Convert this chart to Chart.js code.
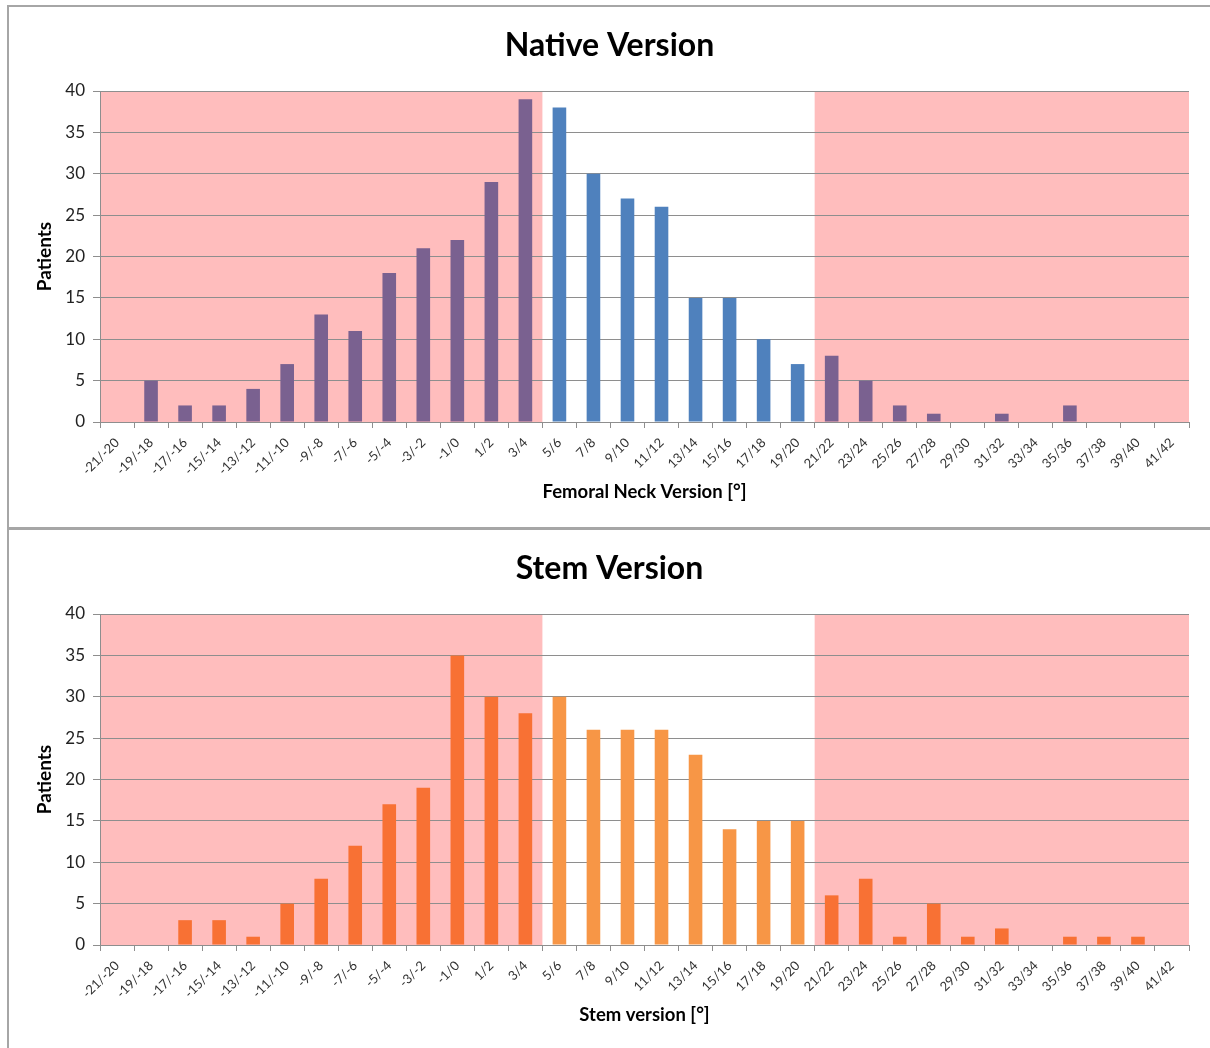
<!DOCTYPE html>
<html>
<head>
<meta charset="utf-8">
<script src="https://cdn.jsdelivr.net/npm/chart.js@4"></script>
<style>
  html, body { margin: 0; padding: 0; background: #fff; overflow: hidden; }
  .box { position: absolute; left: 7px; border: 2px solid #a6a6a6; width: 1201px; height: 520px; background: #fff; }
  #boxTop { top: 5px; }
  #boxBottom { top: 528px; }
  canvas { display: block; }
</style>
</head>
<body>
<div class="box" id="boxTop"><canvas id="nativeChart" width="1201" height="520"></canvas></div>
<div class="box" id="boxBottom"><canvas id="stemChart" width="1201" height="520"></canvas></div>
<script>
const categories = [
    "-21/-20", "-19/-18", "-17/-16", "-15/-14", "-13/-12", "-11/-10", "-9/-8", "-7/-6",
    "-5/-4", "-3/-2", "-1/0", "1/2", "3/4", "5/6", "7/8", "9/10", "11/12", "13/14",
    "15/16", "17/18", "19/20", "21/22", "23/24", "25/26", "27/28", "29/30", "31/32",
    "33/34", "35/36", "37/38", "39/40", "41/42"
];

const nativeValues = [0, 5, 2, 2, 4, 7, 13, 11, 18, 21, 22, 29, 39, 38, 30, 27, 26, 15,
    15, 10, 7, 8, 5, 2, 1, 0, 1, 0, 2, 0, 0, 0];

const stemValues = [0, 0, 3, 3, 1, 5, 8, 12, 17, 19, 35, 30, 28, 30, 26, 26, 26, 23,
    14, 15, 15, 6, 8, 1, 5, 1, 2, 0, 1, 1, 1, 0];

// normal range (white background), first and last category inside it
const normalRange = ["5/6", "19/20"];

const yTicks = [0, 5, 10, 15, 20, 25, 30, 35, 40];

const FONT = "Lato, 'Open Sans', sans-serif";
const GRID = "#8e8e8e";
const PINK = "#ffbdbd";

const bandPlugin = {
    id: "outOfRangeBands",
    beforeDraw(chart) {
        const {ctx, chartArea} = chart;
        const x = chart.scales.x, y = chart.scales.y;
        const lo = categories.indexOf(normalRange[0]);
        const hi = categories.indexOf(normalRange[1]);
        const leftEdge = (x.getPixelForValue(lo - 1) + x.getPixelForValue(lo)) / 2;
        const rightEdge = (x.getPixelForValue(hi) + x.getPixelForValue(hi + 1)) / 2;
        const top = y.getPixelForValue(yTicks[yTicks.length - 1]);
        const bottom = y.getPixelForValue(0);
        ctx.save();
        ctx.fillStyle = PINK;
        ctx.fillRect(chartArea.left, top, leftEdge - chartArea.left, bottom - top);
        ctx.fillRect(rightEdge, top, chartArea.right - rightEdge, bottom - top);
        ctx.restore();
    }
};

function barColors(inside, outside) {
    const lo = categories.indexOf(normalRange[0]);
    const hi = categories.indexOf(normalRange[1]);
    return categories.map((c, i) => (i >= lo && i <= hi) ? inside : outside);
}

function createChart(canvasId, title, xTitle, values, inside, outside) {
    return new Chart(document.getElementById(canvasId), {
        type: "bar",
        data: {
            labels: categories,
            datasets: [{
                data: values,
                backgroundColor: barColors(inside, outside),
                borderWidth: 0,
                barPercentage: 0.4,
                categoryPercentage: 1.0,
            }]
        },
        options: {
            responsive: false,
            animation: false,
            devicePixelRatio: 1,
            layout: {padding: {left: 21, right: 21, top: 0, bottom: 0}},
            scales: {
                x: {
                    offset: true,
                    grid: {
                        display: true,
                        offset: true,
                        drawOnChartArea: false,
                        drawTicks: true,
                        tickLength: 6,
                        color: GRID,
                    },
                    border: {display: true, color: GRID},
                    ticks: {
                        autoSkip: false,
                        maxRotation: 45,
                        minRotation: 45,
                        padding: 7,
                        color: "#333",
                        font: {family: FONT, size: 13},
                    },
                    title: {
                        display: true,
                        text: xTitle,
                        color: "#000",
                        font: {family: FONT, size: 18.5, weight: "bold"},
                        padding: {top: 0, bottom: 24},
                    },
                    afterFit(scale) { scale.height = 105; }
                },
                y: {
                    min: 0,
                    max: 40,
                    afterBuildTicks(scale) { scale.ticks = yTicks.map(v => ({value: v})); },
                    grid: {
                        color: GRID,
                        drawTicks: true,
                        tickLength: 7,
                    },
                    border: {display: true, color: GRID},
                    ticks: {
                        padding: 8,
                        color: "#222",
                        font: {family: FONT, size: 17},
                    },
                    title: {
                        display: true,
                        text: "Patients",
                        color: "#000",
                        font: {family: FONT, size: 19, weight: "bold"},
                        padding: {top: 3, bottom: 0},
                    },
                    afterFit(scale) { scale.width = 70; }
                }
            },
            plugins: {
                legend: {display: false},
                tooltip: {enabled: false},
                title: {
                    display: true,
                    text: title,
                    color: "#000",
                    font: {family: FONT, size: 32, weight: "bold"},
                    padding: {top: 19, bottom: 26.6},
                }
            }
        },
        plugins: [bandPlugin]
    });
}

createChart("nativeChart", "Native Version", "Femoral Neck Version [°]", nativeValues, "#4f81bd", "#7a6190");
createChart("stemChart", "Stem Version", "Stem version [°]", stemValues, "#f79646", "#f87134");
</script>
</body>
</html>
